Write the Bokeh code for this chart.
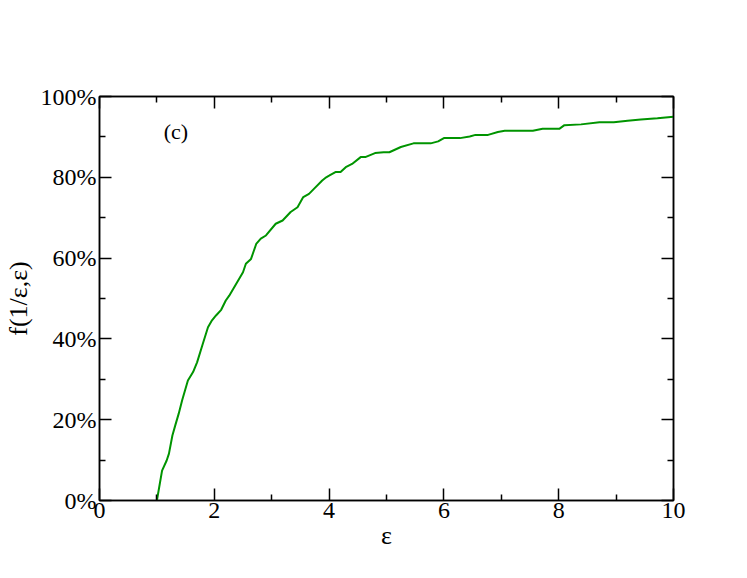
from bokeh.plotting import figure
from bokeh.models import Range1d, FixedTicker, PrintfTickFormatter, LinearAxis, Label
from bokeh.embed import file_html
from bokeh.resources import INLINE

# data
eps = [1.00, 1.09, 1.17, 1.21, 1.27, 1.32, 1.38, 1.44, 1.54, 1.63, 1.70, 1.80, 1.89, 1.96,
       2.03, 2.12, 2.20, 2.26, 2.38, 2.50, 2.55, 2.64, 2.73, 2.81, 2.90, 3.07, 3.19, 3.33,
       3.45, 3.55, 3.65, 3.74, 3.88, 3.95, 4.00, 4.11, 4.20, 4.29, 4.40, 4.55, 4.63, 4.80,
       4.95, 5.05, 5.25, 5.47, 5.77, 5.90, 6.00, 6.28, 6.45, 6.55, 6.77, 6.94, 7.06, 7.55,
       7.72, 8.01, 8.10, 8.39, 8.71, 8.96, 9.20, 9.43, 9.72, 10.0]
frac = [0, 7.4, 9.9, 11.6, 16.1, 18.6, 21.5, 24.8, 29.7, 31.8, 34.2, 38.8, 42.9, 44.6,
        45.8, 47.2, 49.5, 50.7, 53.6, 56.5, 58.6, 59.8, 63.5, 64.8, 65.6, 68.5, 69.3, 71.4,
        72.6, 75.1, 75.9, 77.2, 79.2, 80.0, 80.4, 81.3, 81.3, 82.5, 83.3, 85.0, 85.0, 86.0,
        86.2, 86.2, 87.5, 88.4, 88.4, 88.9, 89.7, 89.7, 90.1, 90.5, 90.5, 91.2, 91.5, 91.5,
        92.0, 92.0, 92.9, 93.1, 93.6, 93.6, 94.0, 94.3, 94.6, 95.0]
x_major = [0, 2, 4, 6, 8, 10]
x_minor = [1, 3, 5, 7, 9]
y_major = [0, 20, 40, 60, 80, 100]
y_minor = [10, 30, 50, 70, 90]

FONT = "Liberation Serif"

p = figure(width=731, height=562, output_backend="svg", toolbar_location=None,
           x_range=Range1d(0, 10), y_range=Range1d(0, 100),
           x_axis_location=None, y_axis_location=None,
           min_border_left=96, min_border_right=58, min_border_top=96, min_border_bottom=62)
p.grid.visible = False
p.outline_line_color = "black"
p.outline_line_width = 1.5
p.background_fill_color = "white"
p.border_fill_color = "white"

def style(ax, show_labels):
    ax.major_tick_in = 12
    ax.major_tick_out = 0
    ax.minor_tick_in = 6
    ax.minor_tick_out = 0
    ax.axis_line_width = 1.5
    ax.major_tick_line_width = 1.5
    ax.minor_tick_line_width = 1.5
    ax.major_label_text_font = FONT
    ax.major_label_text_font_size = "24px"
    ax.major_label_text_color = "black"
    ax.axis_label_text_font = FONT
    ax.axis_label_text_font_size = "26px"
    ax.axis_label_text_color = "black"
    ax.axis_label_text_font_style = "normal"
    if not show_labels:
        ax.major_label_text_color = None

xt = FixedTicker(ticks=x_major, minor_ticks=x_minor)
yt = FixedTicker(ticks=y_major, minor_ticks=y_minor)

xb = LinearAxis(ticker=xt, axis_label="ε")
style(xb, True)
xb.major_label_standoff = 2
xb.axis_label_standoff = 0
p.add_layout(xb, "below")

yl = LinearAxis(ticker=yt, axis_label="f(1/ε,ε)", formatter=PrintfTickFormatter(format="%d%%"))
style(yl, True)
yl.major_label_standoff = 3
yl.axis_label_standoff = 5
p.add_layout(yl, "left")

xa = LinearAxis(ticker=xt)
style(xa, False)
p.add_layout(xa, "above")

yr = LinearAxis(ticker=yt)
style(yr, False)
p.add_layout(yr, "right")

p.line(eps, frac, line_color="#009400", line_width=2)

p.add_layout(Label(x=1.33, y=91.3, text="(c)", text_font=FONT, text_font_size="22px",
                   text_color="black", text_align="center", text_baseline="middle"))

open("out.html", "w").write(file_html(p, INLINE))
